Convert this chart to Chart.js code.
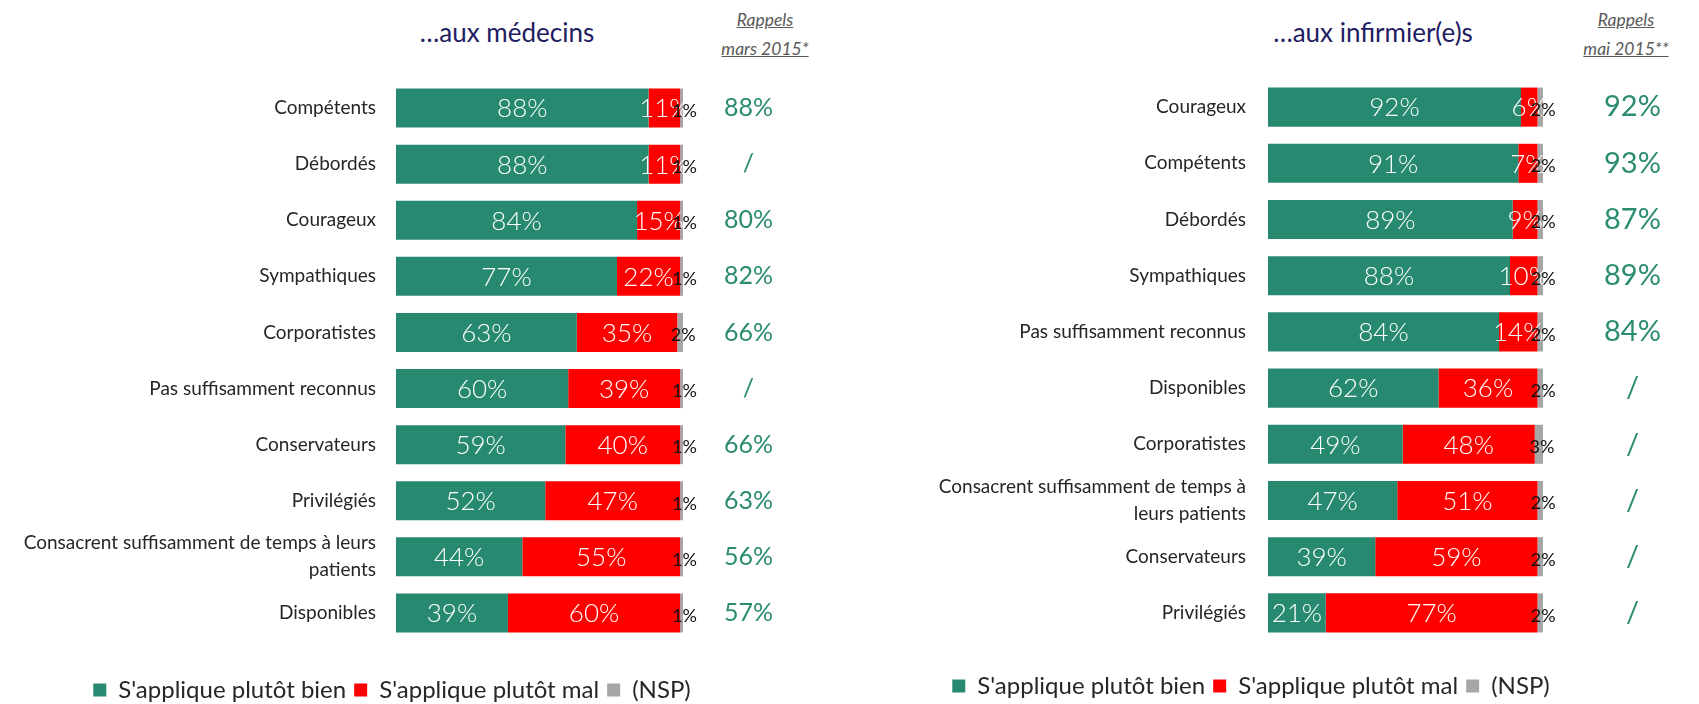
<!DOCTYPE html>
<html lang="fr">
<head>
<meta charset="utf-8">
<title>Image des médecins et des infirmier(e)s</title>
<script src="https://cdn.jsdelivr.net/npm/chart.js@4.4.1/dist/chart.umd.min.js"></script>
<style>
  html, body { margin: 0; padding: 0; background: #fff; }
  body { width: 1699px; height: 704px; overflow: hidden; position: relative; font-family: Lato, 'Open Sans', sans-serif; }
  canvas { position: absolute; top: 0; }
  .titre { position: absolute; top: 16px; color: #1f2062; font-size: 26px; line-height: 32px; white-space: nowrap; transform: translateX(-50%); }
  .rappel { position: absolute; top: 5px; color: #595959; font-size: 17.5px; font-style: italic; text-decoration: underline; text-align: center; line-height: 29px; white-space: nowrap; transform: translateX(-50%); }
</style>
</head>
<body>
<div class="titre" style="left:507px">…aux médecins</div>
<div class="rappel" style="left:765px">Rappels<br>mars 2015*</div>
<div class="titre" style="left:1373px">…aux infirmier(e)s</div>
<div class="rappel" style="left:1626px">Rappels<br>mai 2015**</div>
<canvas id="medecins" width="850" height="712" style="left:0"></canvas>
<canvas id="infirmiers" width="867" height="712" style="left:832px"></canvas>
<script>
  // ====== DONNÉES : MÉDECINS ======
  const categoriesMed = [
    'Compétents', 'Débordés', 'Courageux', 'Sympathiques', 'Corporatistes',
    'Pas suffisamment reconnus', 'Conservateurs', 'Privilégiés',
    ['Consacrent suffisamment de temps à leurs', 'patients'], 'Disponibles'
  ];
  const bienMed   = [88, 88, 84, 77, 63, 60, 59, 52, 44, 39];
  const malMed    = [11, 11, 15, 22, 35, 39, 40, 47, 55, 60];
  const nspMed    = [1, 1, 1, 1, 2, 1, 1, 1, 1, 1];
  const rappelMed = ['88%', '/', '80%', '82%', '66%', '/', '66%', '63%', '56%', '57%'];

  // ====== DONNÉES : INFIRMIER(E)S ======
  const categoriesInf = [
    'Courageux', 'Compétents', 'Débordés', 'Sympathiques', 'Pas suffisamment reconnus',
    'Disponibles', 'Corporatistes',
    ['Consacrent suffisamment de temps à', 'leurs patients'], 'Conservateurs', 'Privilégiés'
  ];
  const bienInf   = [92, 91, 89, 88, 84, 62, 49, 47, 39, 21];
  const malInf    = [6, 7, 9, 10, 14, 36, 48, 51, 59, 77];
  const nspInf    = [2, 2, 2, 2, 2, 2, 3, 2, 2, 2];
  const rappelInf = ['92%', '93%', '87%', '89%', '84%', '/', '/', '/', '/', '/'];

  const series = ["S'applique plutôt bien", "S'applique plutôt mal", '(NSP)'];
  const couleurs = ['#278a70', '#ff0000', '#a6a6a6'];
  const FONT = "Lato, 'Open Sans', sans-serif";

  // étiquettes de valeurs dans les barres
  const etiquettes = {
    id: 'etiquettes',
    afterDatasetsDraw(chart) {
      const ctx = chart.ctx;
      ctx.save();
      ctx.textAlign = 'center';
      ctx.textBaseline = 'middle';
      chart.data.datasets.forEach((ds, i) => {
        chart.getDatasetMeta(i).data.forEach((bar, j) => {
          const p = bar.getCenterPoint();
          ctx.fillStyle = ds.labelColor;
          ctx.font = ds.labelFont;
          ctx.fillText(ds.data[j] + '%', p.x + ds.labelDx, p.y + ds.labelDy);
        });
      });
      ctx.restore();
    }
  };

  // les décalages horizontaux passent par tickLength (grille masquée)
  // pour ne pas gonfler le padding vertical des axes
  function dessiner(id, o) {
    const donnees = [o.bien, o.mal, o.nsp];
    new Chart(document.getElementById(id), {
      type: 'bar',
      data: {
        labels: o.categories,
        datasets: donnees.map((d, i) => ({
          label: series[i],
          data: d,
          backgroundColor: couleurs[i],
          borderWidth: 0,
          barPercentage: 0.695,
          categoryPercentage: 1,
          labelColor: i === 2 ? '#111' : '#fff',
          labelFont: i === 2 ? `18px ${FONT}` : `300 26px ${FONT}`,
          labelDx: i === 2 ? 3 : 0,
          labelDy: i === 2 ? 3 : 1
        }))
      },
      options: {
        indexAxis: 'y',
        responsive: false,
        animation: false,
        events: [],
        layout: { padding: { top: o.top, bottom: o.padB, left: 0, right: o.padR } },
        scales: {
          x: {
            stacked: true, min: 0, max: 100,
            grid: { display: false, drawTicks: false }, border: { display: false },
            ticks: { display: false },
            afterFit: (s) => { s.height = o.xH; }
          },
          y: {
            stacked: true,
            grid: { display: false, drawTicks: true, tickLength: o.yGap }, border: { display: false },
            ticks: { color: '#262626', padding: 0, autoSkip: false, font: { family: FONT, size: 19, lineHeight: 1.42 } },
            afterFit: (s) => { s.width = o.yW; }
          },
          y2: {
            type: 'category', labels: o.rappels, position: 'right', offset: true,
            grid: { display: false, drawTicks: true, tickLength: o.y2Gap }, border: { display: false },
            ticks: { color: '#2b8c72', padding: 0, crossAlign: 'center', autoSkip: false, font: { family: FONT, size: o.rapSize } },
            afterFit: (s) => { s.width = o.y2W; }
          }
        },
        plugins: {
          legend: {
            position: 'bottom',
            labels: { boxWidth: 13, boxHeight: 13, padding: 8, color: '#262626', font: { family: FONT, size: 24 } }
          },
          tooltip: { enabled: false }
        }
      },
      plugins: [etiquettes]
    });
  }

  dessiner('medecins', {
    categories: categoriesMed, bien: bienMed, mal: malMed, nsp: nspMed, rappels: rappelMed,
    top: 80, padB: 0, padR: 66, xH: 29, yW: 396, yGap: 20, y2W: 101, y2Gap: 41, rapSize: 25
  });
  dessiner('infirmiers', {
    categories: categoriesInf, bien: bienInf, mal: malInf, nsp: nspInf, rappels: rappelInf,
    top: 79, padB: 4, padR: 29, xH: 25, yW: 436, yGap: 22, y2W: 127, y2Gap: 61, rapSize: 29
  });
</script>
</body>
</html>
